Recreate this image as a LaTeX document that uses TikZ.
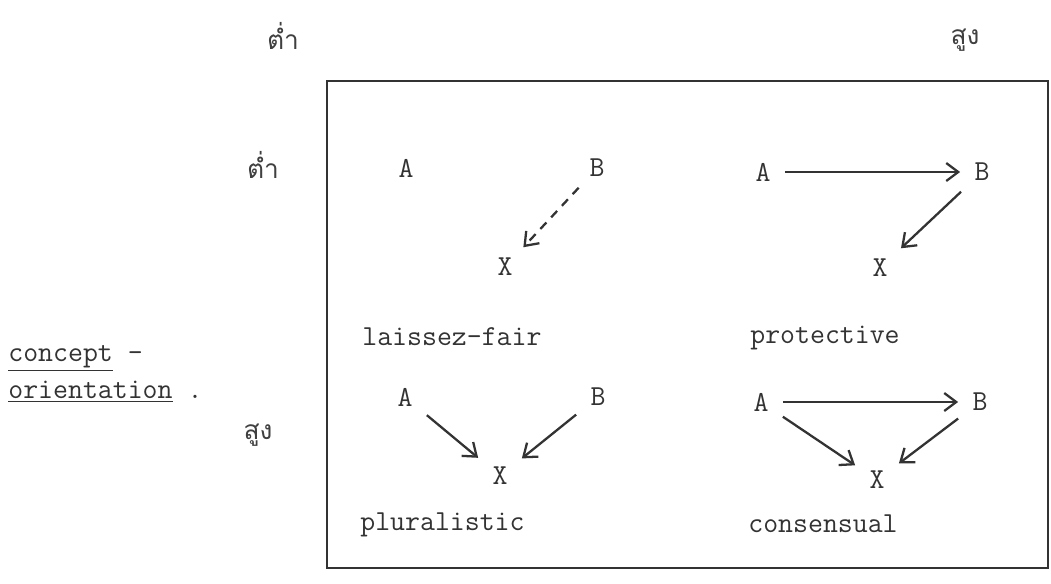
\documentclass[tikz,border=0pt]{standalone}
\usepackage{fontspec}
\newfontfamily\thaifont[Script=Thai]{Loma}
\usetikzlibrary{arrows.meta,positioning}

\begin{document}
\begin{tikzpicture}[x=0.02cm,y=-0.02cm,
    lettre/.style  = {font=\ttfamily\fontsize{16.5}{19}\selectfont,inner xsep=8pt,inner ysep=6pt,text=black!80},
    nomcase/.style = {font=\ttfamily\fontsize{16.5}{19}\selectfont,anchor=west,inner sep=0pt,text=black!80},
    niveau/.style  = {font=\thaifont\fontsize{15}{18}\selectfont,inner sep=0pt,text=black!75},
    fleche/.style  = {line width=1.3pt,black!80,-{Straight Barb[length=2.4mm,width=3.6mm,line width=1.3pt]}},
  ]
  \useasboundingbox (0,0) rectangle (1051,583);

  % Cadre
  \draw[line width=1pt,black!80] (327,81) rectangle (1048,568);

  % Niveaux
  \node[niveau] (bas-h)  at (283,36)  {ต่ำ};
  \node[niveau] (haut-h) at (965,40)  {สูง};
  \node[niveau] (bas-v)  at (263,165) {ต่ำ};
  \node[niveau] (haut-v) at (258,435) {สูง};

  % Titre a gauche
  \node[nomcase] (titre1) at (8,358) {\underline{concept} -};
  \node[nomcase] (titre2) at (8,392) {\underline{orientation} .};

  % Lettres des quatre cases
  \foreach \q/\ax/\ay/\bx/\by/\xx/\xy in {
      lf/406/168/597/168/505/267,
      pr/763/172/982/172/880/268,
      pl/405/397/598/397/500/476,
      co/761/402/980/402/877/480}
  {
    \node[lettre] (\q A) at (\ax,\ay) {A};
    \node[lettre] (\q B) at (\bx,\by) {B};
    \node[lettre] (\q X) at (\xx,\xy) {X};
  }

  % Noms des cases
  \node[nomcase] (lf) at (362,337) {laissez-fair};
  \node[nomcase] (pr) at (750,338) {protective};
  \node[nomcase] (pl) at (360,525) {pluralistic};
  \node[nomcase] (co) at (748,524) {consensual};

  % Fleches
  \draw[fleche,dash pattern=on 5pt off 4pt] (lfB) -- (lfX);
  \draw[fleche] (prA) -- (prB);
  \draw[fleche] (prB) -- (prX);
  \draw[fleche] (plA) -- (plX);
  \draw[fleche] (plB) -- (plX);
  \draw[fleche] (coA) -- (coB);
  \draw[fleche] (coA) -- (coX);
  \draw[fleche] (coB) -- (coX);

\end{tikzpicture}
\end{document}
